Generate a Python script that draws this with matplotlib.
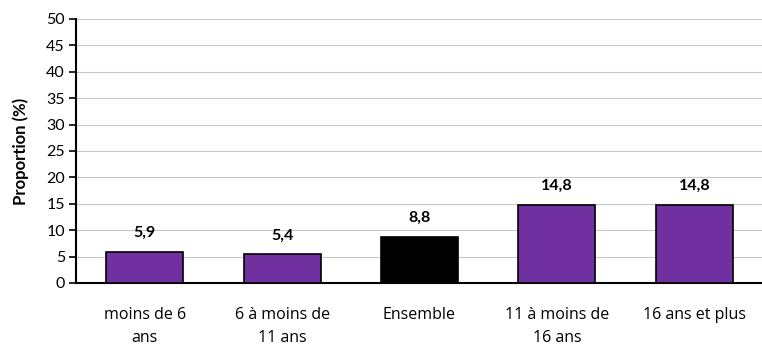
import matplotlib.pyplot as plt

categories = ['moins de 6\nans', '6 à moins de\n11 ans', 'Ensemble', '11 à moins de\n16 ans', '16 ans et plus']
values = [5.9, 5.4, 8.8, 14.8, 14.8]
colors = ['#7030A0', '#7030A0', '#000000', '#7030A0', '#7030A0']
labels = ['5,9', '5,4', '8,8', '14,8', '14,8']

plt.rcParams['font.family'] = ['Lato', 'DejaVu Sans']

fig = plt.figure(figsize=(7.62, 3.48), dpi=100)
ax = fig.add_axes([76 / 762, 1 - 283 / 348, 687 / 762, 264 / 348])

x = range(len(categories))
ax.bar(x, values, width=0.56, color=colors, edgecolor='black', linewidth=1.2, zorder=3)

for i in x:
    ax.text(i, values[i] + 2.3, labels[i], ha='center', va='bottom', fontsize=11.5, fontweight='bold')

ax.set_ylim(0, 50)
ax.set_xlim(-0.5, len(categories) - 0.5)
ax.set_yticks(range(0, 51, 5))
ax.set_xticks(list(x))
ax.set_xticklabels(categories, fontsize=11.5, family=['Open Sans', 'DejaVu Sans'], linespacing=1.65)
ax.tick_params(axis='x', length=0, pad=17)
ax.tick_params(axis='y', labelsize=11.5, length=5, width=1.2, pad=3)
ax.set_ylabel('Proportion (%)', fontsize=12, fontweight='bold', labelpad=12)

ax.yaxis.grid(True, color='#c8c8c8', linewidth=0.8, zorder=0)
for s in ['top', 'right']:
    ax.spines[s].set_visible(False)
ax.spines['left'].set_linewidth(1.5)
ax.spines['bottom'].set_linewidth(1.5)

fig.savefig('out.png', dpi=100)
